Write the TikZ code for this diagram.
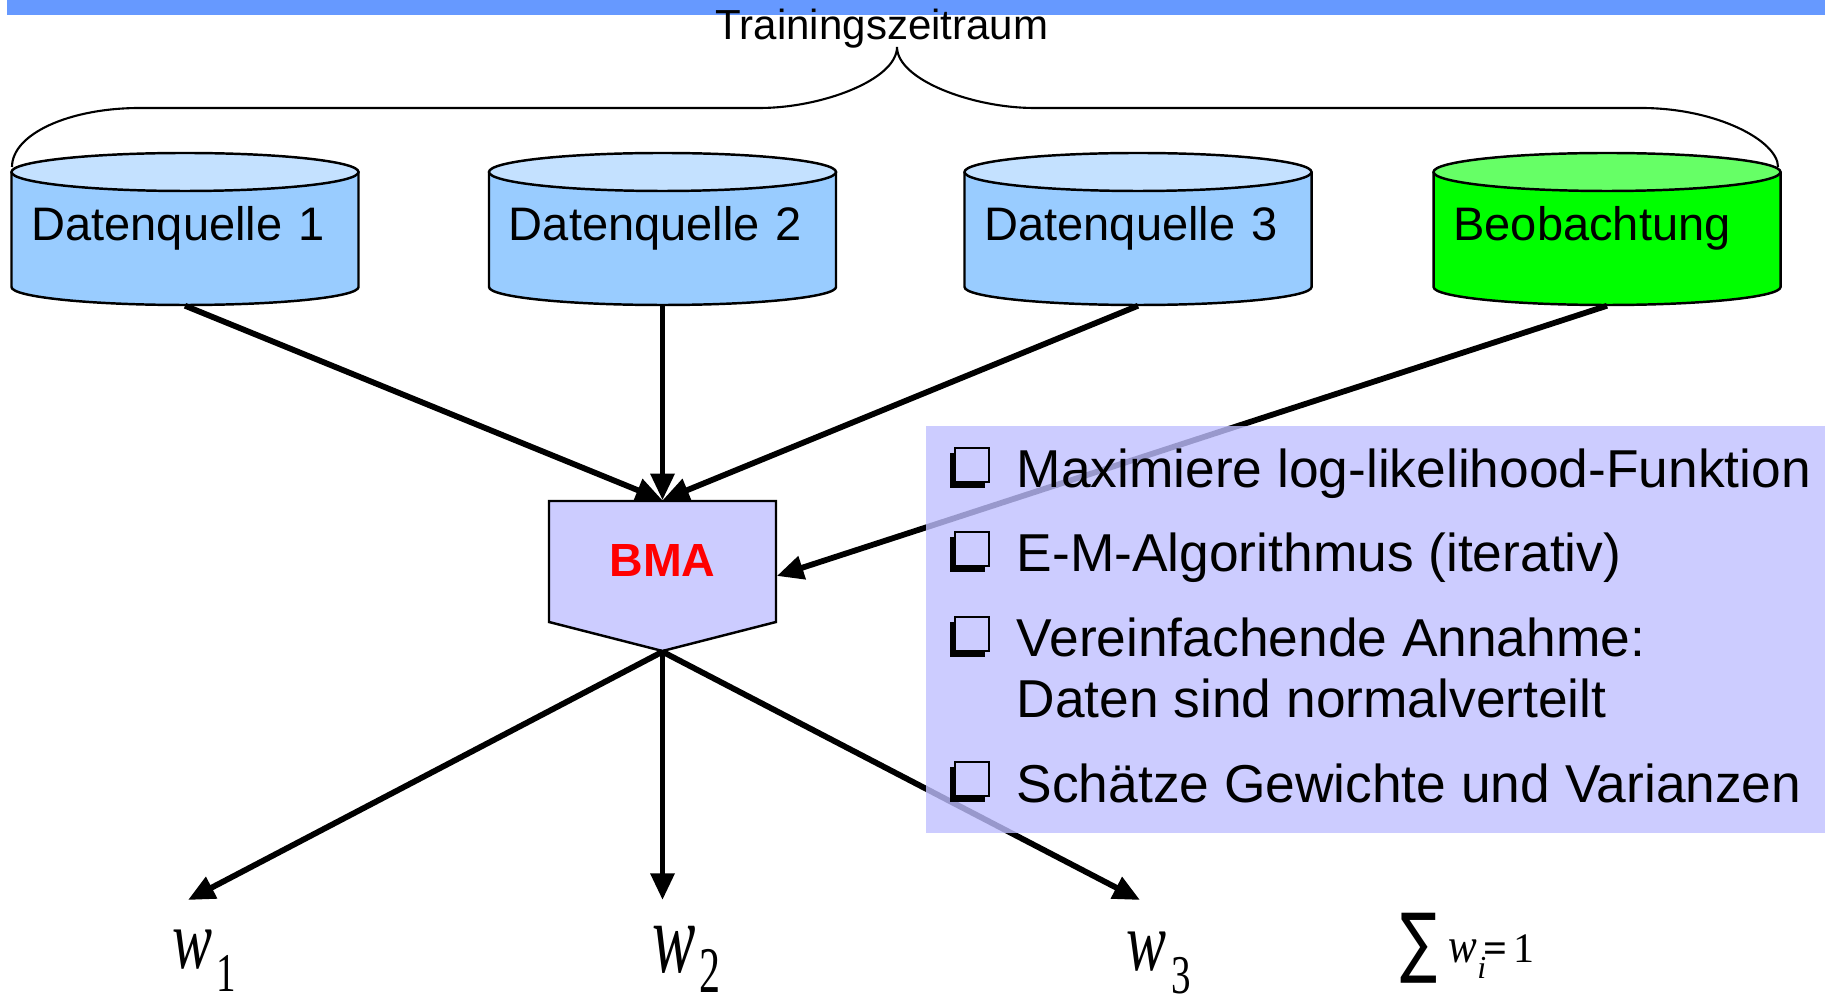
\documentclass[tikz,border=0pt]{standalone}
\usepackage{fontspec}
\setmainfont{Liberation Sans}
\newfontfamily\timesfont{Liberation Serif}
\newfontfamily\dejavufont{DejaVu Sans}
\usepackage{graphicx}
\usetikzlibrary{arrows.meta}
\definecolor{barblue}{HTML}{6699FF}
\definecolor{cylside}{HTML}{99CCFF}
\definecolor{cyltop}{HTML}{C4E1FF}
\definecolor{greenside}{HTML}{00FF00}
\definecolor{greentop}{HTML}{66FF66}
\definecolor{bmafill}{HTML}{CCCCFF}
\definecolor{boxfill}{HTML}{BFBFFF}
\definecolor{boxvis}{HTML}{CCCCFF}
\newcommand{\dbcyl}[3]{%
  \path[fill=#2] ({#1-173.5},172) -- ({#1-173.5},287) arc[start angle=180,end angle=0,x radius=173.5,y radius=18] -- ({#1+173.5},172) -- cycle;
  \draw[cylline] ({#1-173.5},172) -- ({#1-173.5},287) arc[start angle=180,end angle=0,x radius=173.5,y radius=18] -- ({#1+173.5},172);
  \filldraw[cylline,fill=#3] (#1,172) ellipse[x radius=173.5,y radius=19];
}
\newcommand{\bulletbox}[1]{%
  \fill (950,{#1-35}) rectangle (985,{#1});
  \filldraw[line width=0.55pt,fill=boxvis] (955,{#1-40}) rectangle (989,{#1-6});
}
\begin{document}
\begin{tikzpicture}[x=0.01cm,y=-0.01cm,
  cylline/.style={line width=0.7pt},
  braceline/.style={line width=0.6pt},
  cylnode/.style={inner xsep=0.20cm, inner ysep=0pt, text width=3.07cm, align=left,
    text height=0.36cm, text depth=0.12cm, minimum height=1.52cm,
    font=\fontsize{0.47cm}{0.56cm}\selectfont},
  bmanode/.style={inner sep=0pt, minimum width=2.27cm, minimum height=1.5cm,
    text height=0.36cm, text depth=0.34cm, text=red,
    font=\bfseries\fontsize{0.465cm}{0.56cm}\selectfont},
  arr/.style={line width=1.65pt, -{Triangle[length=7.6pt,width=6.6pt]}},
  itemtext/.style={anchor=base west, inner sep=0pt, font=\fontsize{0.533cm}{0.6cm}\selectfont},
  wnode/.style={anchor=base west, inner sep=0pt, font=\timesfont\fontsize{0.6cm}{0.7cm}\selectfont},
  titletext/.style={anchor=base, inner sep=0pt, font=\fontsize{0.42cm}{0.5cm}\selectfont}
]
\useasboundingbox (0,0) rectangle (1825,1004);
% top bar
\fill[barblue] (7,0) rectangle (1825,15);
% brace
\draw[braceline] (12,167) .. controls (12,134) and (69,108) .. (140,108)
  -- (760,108) .. controls (821,108) and (897,80) .. (897,47)
  .. controls (897,80) and (973,108) .. (1034,108)
  -- (1641,108) .. controls (1717,108) and (1778,141) .. (1778,167);
\node[titletext] (title) at (882,40) {Trainingszeitraum};
% cylinders
\dbcyl{185}{cylside}{cyltop}
\dbcyl{662.5}{cylside}{cyltop}
\dbcyl{1138}{cylside}{cyltop}
\dbcyl{1607}{greenside}{greentop}
\node[cylnode] (c1) at (185,229) {Datenquelle 1};
\node[cylnode] (c2) at (662.5,229) {Datenquelle 2};
\node[cylnode] (c3) at (1138,229) {Datenquelle 3};
\node[cylnode] (c4) at (1607,229) {Beobachtung};
% BMA
\filldraw[cylline,fill=bmafill] (549,501) -- (776,501) -- (776,622) -- (662.5,651) -- (549,622) -- cycle;
\node[bmanode] (bma) at (662.5,576) {BMA};
% output targets
\coordinate (t1) at (188,900);
\coordinate (t2) at (662.5,900);
\coordinate (t3) at (1140,900);
% arrows
\draw[arr] (c1.south) -- (bma.north);
\draw[arr] (c2.south) -- (bma.north);
\draw[arr] (c3.south) -- (bma.north);
\draw[arr] (c4.south) -- (bma.east);
\draw[arr] (bma.south) -- (t1);
\draw[arr] (bma.south) -- (t2);
\draw[arr] (bma.south) -- (t3);
% info box
\node[fill=boxfill, fill opacity=0.8, minimum width=8.99cm, minimum height=4.07cm, inner sep=0pt] (info) at (1375.5,629.5) {};
\bulletbox{488}
\bulletbox{572}
\bulletbox{657}
\bulletbox{802}
\node[itemtext] (i1) at (1016,488) {Maximiere log-likelihood-Funktion};
\node[itemtext] (i2) at (1016,572) {E-M-Algorithmus (iterativ)};
\node[itemtext] (i3) at (1016,657) {Vereinfachende Annahme:};
\node[itemtext] (i3b) at (1016,718) {Daten sind normalverteilt};
\node[itemtext] (i4) at (1016,802) {Schätze Gewichte und Varianzen};
% weights
\node[wnode] (w1) at (172,968) {\scalebox{1}[1.4]{\textit{w}\kern0.04cm\raisebox{-0.17cm}{\fontsize{0.39cm}{0.4cm}\selectfont 1}}};
\node[wnode, font=\timesfont\fontsize{0.65cm}{0.7cm}\selectfont] (w2) at (652,972) {\scalebox{1}[1.55]{\textit{w}\kern0.03cm\raisebox{-0.13cm}{\fontsize{0.42cm}{0.5cm}\selectfont 2}}};
\node[wnode] (w3) at (1126,970) {\scalebox{1}[1.4]{\textit{w}\kern0.05cm\raisebox{-0.17cm}{\fontsize{0.39cm}{0.4cm}\selectfont 3}}};
\node[wnode] (sum) at (1400,962) {\raisebox{-0.21cm}{\resizebox*{0.37cm}{0.70cm}{\raisebox{\depth}{\dejavufont ∑}}}\hspace{0.11cm}\scalebox{1}[1.15]{\fontsize{0.43cm}{0.5cm}\selectfont\textit{w}}\raisebox{-0.16cm}{\fontsize{0.32cm}{0.35cm}\selectfont\textit{i}}\kern-0.03cm{\fontsize{0.42cm}{0.45cm}\selectfont\textbf{=}\kern0.06cm 1}};
\end{tikzpicture}
\end{document}
